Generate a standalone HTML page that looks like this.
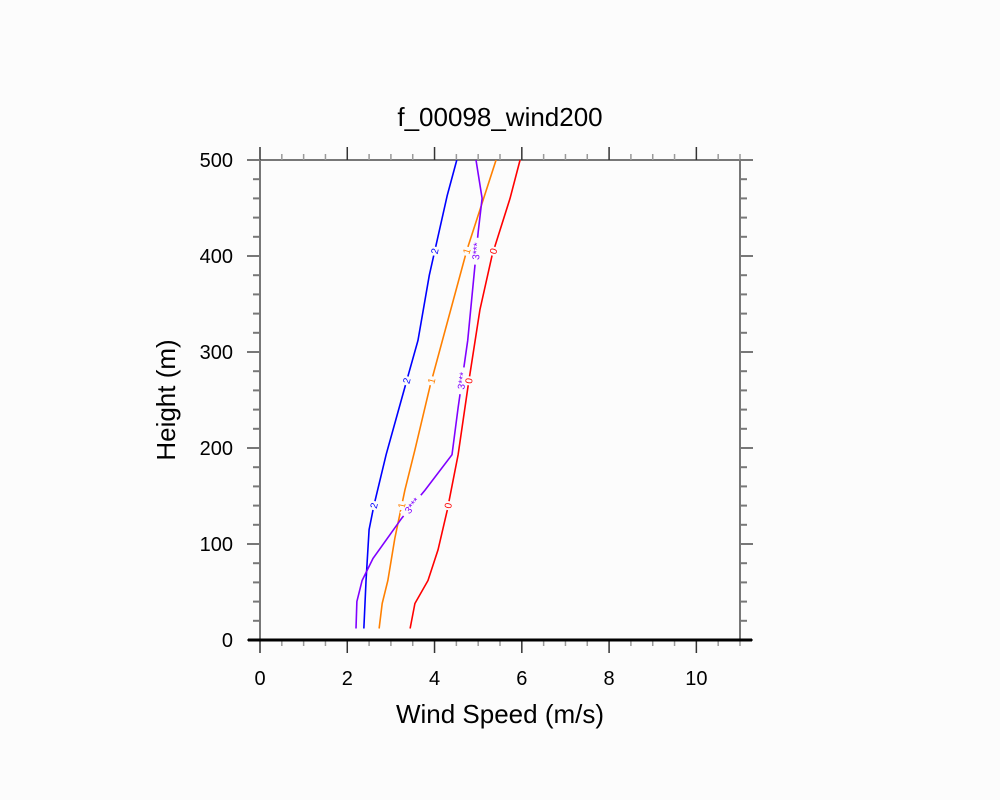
<!DOCTYPE html>
<html><head><meta charset="utf-8"><style>
html,body{margin:0;padding:0;background:#fcfcfc}
svg{display:block;font-family:"Liberation Sans",sans-serif}
</style></head><body>
<svg id="chart" width="1000" height="800" viewBox="0 0 1000 800">
<rect width="1000" height="800" fill="#fcfcfc"/>
<text x="500" y="126" font-size="26" text-anchor="middle" fill="#000">f_00098_wind200</text>
<text x="500" y="723" font-size="26" text-anchor="middle" fill="#000">Wind Speed (m/s)</text>
<text transform="translate(175,400) rotate(-90)" font-size="26" text-anchor="middle" fill="#000">Height (m)</text>
<g id="axes"></g>
<g id="series"></g>
</svg>
<script>
const heights0 = [12,62,115,140,193,265,312,380,463,500];
const blueSpeed = [2.38,2.43,2.5,2.61,2.89,3.33,3.62,3.88,4.29,4.51];
const heights1 = [12,38,62,106,156,198,265,406,500];
const orangeSpeed = [2.73,2.8,2.93,3.09,3.32,3.55,3.9,4.74,5.41];
const heights3 = [12,40,62,85,127,156,193,242,312,425,460,500];
const purpleSpeed = [2.2,2.22,2.34,2.59,3.25,3.78,4.4,4.54,4.76,5.0,5.09,4.95];
const heightsR = [12,38,62,94,135,193,265,344,401,460,500];
const redSpeed = [3.44,3.55,3.85,4.08,4.29,4.54,4.77,5.04,5.32,5.73,5.96];
const xTicks = [0,2,4,6,8,10];
const yTicks = [0,100,200,300,400,500];
const labelHeights = [140,270,405];

const NS="http://www.w3.org/2000/svg";
const X0=260,X1=740,Y0=640,Y1=160,XMAX=11,YMAX=500;
const xs=v=>X0+v/XMAX*(X1-X0);
const ys=v=>Y0-v/YMAX*(Y0-Y1);
function mk(t,a,p){const e=document.createElementNS(NS,t);for(const k in a)e.setAttribute(k,a[k]);p.appendChild(e);return e;}
const ax=document.getElementById('axes');
const grey="#777";
let l;
l=mk('line',{x1:248,y1:Y1,x2:752,y2:Y1,stroke:grey,'stroke-width':2},ax);


l=mk('line',{x1:X0,y1:Y1,x2:X0,y2:Y0,stroke:grey,'stroke-width':2},ax);


l=mk('line',{x1:X1,y1:Y1,x2:X1,y2:Y0,stroke:grey,'stroke-width':2},ax);


for(let v=0;v<=XMAX+1e-9;v+=0.5){
  const x=xs(v),maj=Math.abs(v%2)<1e-9;
  mk('line',{x1:x,y1:Y1,x2:x,y2:Y1-(maj?13:6),stroke:maj?"#333":"#999",'stroke-width':1.5},ax);
  mk('line',{x1:x,y1:Y0,x2:x,y2:Y0+(maj?13:6),stroke:maj?"#333":"#999",'stroke-width':1.5},ax);
}
for(let v=0;v<=YMAX;v+=20){
  const y=ys(v),maj=v%100===0;
  mk('line',{x1:X0,y1:y,x2:X0-(maj?13:7),y2:y,stroke:grey,'stroke-width':2},ax);
  mk('line',{x1:X1,y1:y,x2:X1+(maj?13:7),y2:y,stroke:grey,'stroke-width':2},ax);
}
l=mk('line',{x1:248,y1:Y0,x2:752,y2:Y0,stroke:"#000",'stroke-width':3},ax);


xTicks.forEach(v=>{
  const t=mk('text',{x:xs(v),y:685,'font-size':20,'text-anchor':'middle',fill:'#000'},ax);t.textContent=v;
  
  
});
yTicks.forEach(v=>{
  const t=mk('text',{x:233,y:ys(v)+7,'font-size':20,'text-anchor':'end',fill:'#000'},ax);t.textContent=v;
  
  
});
const sg=document.getElementById('series');
const series=[
 {name:'line-blue-2',h:heights0,s:blueSpeed,c:'#0000ff',lab:'2'},
 {name:'line-orange-1',h:heights1,s:orangeSpeed,c:'#ff8000',lab:'1'},
 {name:'line-purple-3',h:heights3,s:purpleSpeed,c:'#8000ff',lab:'3***'},
 {name:'line-red-0',h:heightsR,s:redSpeed,c:'#ff0000',lab:'0'}
];
function interp(h,H,S){for(let i=0;i<H.length-1;i++){if(h>=H[i]&&h<=H[i+1]){const f=(h-H[i])/(H[i+1]-H[i]);return S[i]+f*(S[i+1]-S[i]);}}return S[S.length-1];}
series.forEach(se=>{
  const p=mk('polyline',{points:se.h.map((h,i)=>xs(se.s[i])+','+ys(h)).join(' '),fill:'none',stroke:se.c,'stroke-width':1.6},sg);
  
  
  labelHeights.forEach(h=>{
    const x=xs(interp(h,se.h,se.s)),y=ys(h);
    const x2=xs(interp(h+10,se.h,se.s)),y2=ys(h+10);
    const ang=Math.atan2(y2-y,x2-x)*180/Math.PI;
    const g=mk('g',{transform:`translate(${x},${y}) rotate(${ang})`},sg);
    const w=se.lab.length*6+3;
    mk('rect',{x:-w/2,y:-5,width:w,height:10,fill:'#fcfcfc'},g);
    const t=mk('text',{x:0,y:3.5,'font-size':10,'text-anchor':'middle',fill:se.c},g);
    t.textContent=se.lab;
    
    
  });
});
</script>
</body></html>
